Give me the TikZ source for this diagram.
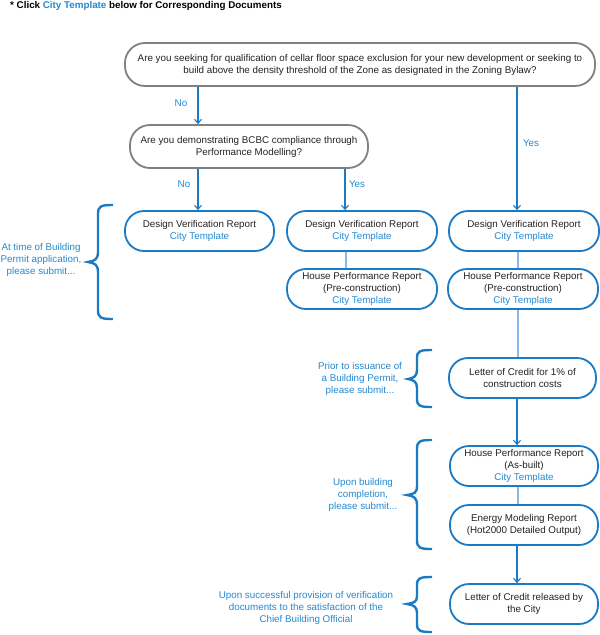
\documentclass[tikz,border=0pt]{standalone}
\usepackage{fontspec}
\setmainfont{Liberation Sans}
\usetikzlibrary{arrows.meta}
\definecolor{bbox}{HTML}{1A7AC4}
\definecolor{btext}{HTML}{2288D2}
\definecolor{lline}{HTML}{8AB8EC}
\definecolor{gline}{HTML}{808080}
\definecolor{dtext}{HTML}{222222}
\tikzset{
  decision/.style={draw=gline, line width=1.8pt, rounded corners=20pt, align=center, text=dtext, font=\fontsize{9.8}{12}\selectfont, inner sep=0pt},
  doc/.style={draw=bbox, line width=1.8pt, rounded corners=19pt, align=center, text=dtext, font=\fontsize{9.8}{12}\selectfont, inner sep=0pt, minimum height=40pt},
  arr/.style={draw=bbox, line width=1.1pt, -{Straight Barb[length=4pt,width=7pt,line width=1.1pt]}},
  plain/.style={draw=lline, line width=1.3pt},
  lbl/.style={text=btext, font=\fontsize{9.8}{12}\selectfont, align=center, inner sep=0pt},
  brace/.style={draw=bbox, line width=2.4pt},
}
\newcommand{\ct}{\textcolor{btext}{City Template}}
\begin{document}
\begin{tikzpicture}[x=1pt,y=-1pt]
\useasboundingbox (0,0) rectangle (600,635);
\node[anchor=west, inner sep=0pt, font=\bfseries\fontsize{9.8}{12}\selectfont, text=black] (title) at (10,6) {* Click \textcolor{btext}{City Template} below for Corresponding Documents};

\node[decision, minimum width=470pt, minimum height=43pt] (q1) at (360,64.5) {Are you seeking for qualification of cellar floor space exclusion for your new development or seeking to\\build above the density threshold of the Zone as designated in the Zoning Bylaw?};
\node[decision, minimum width=238pt, minimum height=43pt] (q2) at (249,146.5) {Are you demonstrating BCBC compliance through\\Performance Modelling?};

\node[doc, minimum width=149pt] (dvr1) at (199.5,231) {Design Verification Report\\\ct};
\node[doc, minimum width=150pt] (dvr2) at (362,231) {Design Verification Report\\\ct};
\node[doc, minimum width=150pt] (dvr3) at (524,231) {Design Verification Report\\\ct};
\node[doc, minimum width=150pt] (hpr2) at (362,289) {House Performance Report\\(Pre-construction)\\\ct};
\node[doc, minimum width=150pt] (hpr3) at (523,289) {House Performance Report\\(Pre-construction)\\\ct};
\node[doc, minimum width=147pt] (loc) at (522.5,378) {Letter of Credit for 1\% of\\construction costs};
\node[doc, minimum width=148pt] (hprab) at (524,466) {House Performance Report\\(As-built)\\\ct};
\node[doc, minimum width=148pt] (emr) at (524,525) {Energy Modeling Report\\(Hot2000 Detailed Output)};
\node[doc, minimum width=148pt] (fin) at (524,604) {Letter of Credit released by\\the City};

% connectors
\draw[arr] (q1.south -| 198,0) -- (q2.north -| 198,0);
\draw[arr] (q1.south -| 517,0) -- (dvr3.north -| 517,0);
\draw[arr] (q2.south -| 198,0) -- (dvr1.north -| 198,0);
\draw[arr] (q2.south -| 345,0) -- (dvr2.north -| 345,0);
\draw[plain] (dvr2.south -| 346,0) -- (hpr2.north -| 346,0);
\draw[plain] (dvr3.south -| 518,0) -- (hpr3.north -| 518,0);
\draw[plain] (hpr3.south -| 518,0) -- (loc.north -| 518,0);
\draw[arr] (loc.south -| 517,0) -- (hprab.north -| 517,0);
\draw[plain] (hprab.south -| 518,0) -- (emr.north -| 518,0);
\draw[arr] (emr.south -| 517,0) -- (fin.north -| 517,0);

% labels
\node[lbl] (no1) at (181,103) {No};
\node[lbl] (yes1) at (531,143) {Yes};
\node[lbl] (no2) at (184,184) {No};
\node[lbl] (yes2) at (357,184) {Yes};

% braces
\draw[brace] (113,205) .. controls (101,205) and (98,206) .. (98,214) -- (98,252) .. controls (98,259) and (95,261) .. (88,262) .. controls (95,263) and (98,265) .. (98,272) -- (98,310) .. controls (98,318) and (101,319) .. (113,319);
\draw[brace] (432,350) .. controls (420,350) and (417,351) .. (417,358) -- (417,370) .. controls (417,376) and (414,378) .. (408,379) .. controls (414,380) and (417,382) .. (417,388) -- (417,399) .. controls (417,406) and (420,407) .. (432,407);
\draw[brace] (432,440) .. controls (420,440) and (417,441) .. (417,449) -- (417,486) .. controls (417,493) and (414,494) .. (407,495) .. controls (414,496) and (417,498) .. (417,505) -- (417,540) .. controls (417,548) and (420,549) .. (432,549);
\draw[brace] (432,577) .. controls (420,577) and (417,578) .. (417,585) -- (417,596) .. controls (417,602) and (414,603) .. (407,604) .. controls (414,605) and (417,607) .. (417,613) -- (417,624) .. controls (417,631) and (420,632) .. (432,632);

\node[lbl] (t1) at (41,260) {At time of Building\\Permit application,\\please submit...};
\node[lbl] (t2) at (360,379) {Prior to issuance of\\a Building Permit,\\please submit...};
\node[lbl] (t3) at (363,495) {Upon building\\completion,\\please submit...};
\node[lbl] (t4) at (306,608) {Upon successful provision of verification\\documents to the satisfaction of the\\Chief Building Official};
\end{tikzpicture}
\end{document}
